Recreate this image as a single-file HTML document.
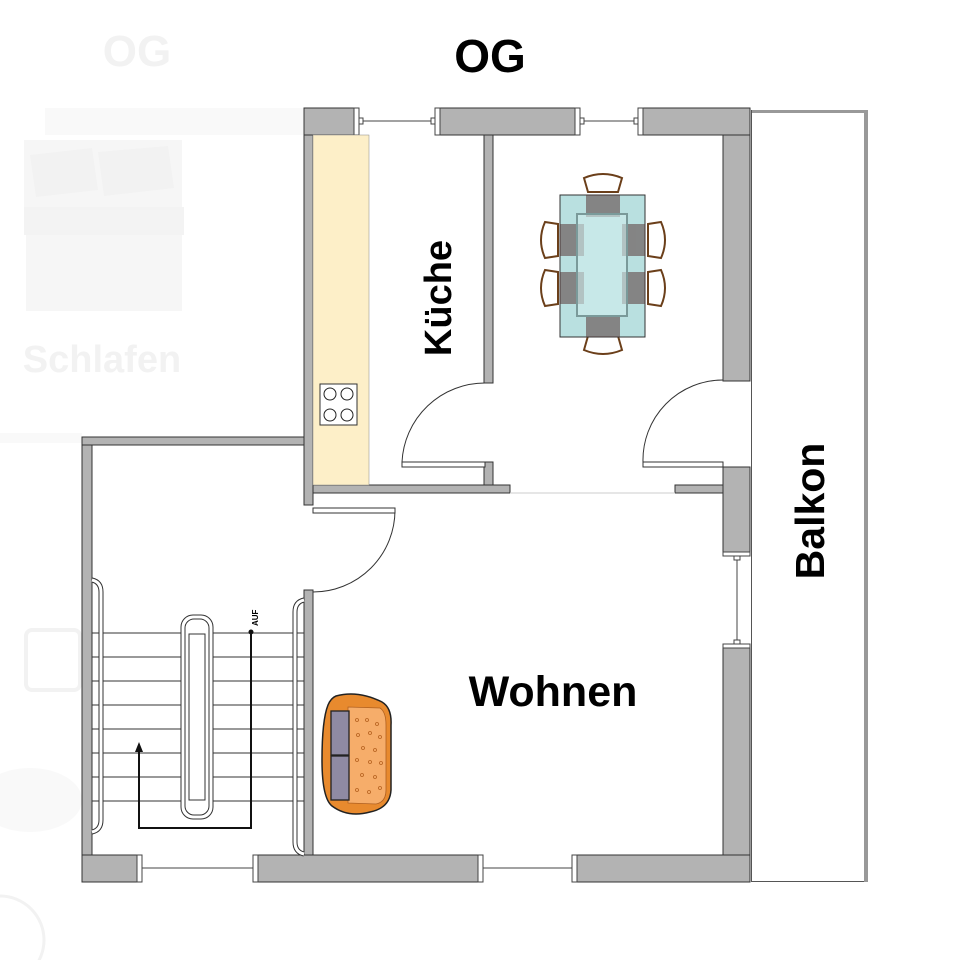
<!DOCTYPE html>
<html><head><meta charset="utf-8"><style>
html,body{margin:0;padding:0;background:#fff;}
svg{display:block;}
text{font-family:"Liberation Sans",sans-serif;font-weight:bold;}
</style></head><body>
<svg width="957" height="960" viewBox="0 0 957 960" xmlns="http://www.w3.org/2000/svg">
<!-- faded left -->
<g fill="#f6f6f6" stroke="none">
<text x="137" y="66" font-size="44" text-anchor="middle" fill="#f2f2f2">OG</text>
<rect x="45" y="108" width="258" height="27" fill="#f9f9f9"/>
<rect x="24" y="140" width="158" height="72"/>
<path d="M30,155 L92,148 L98,190 L36,197 Z" fill="#f2f2f2"/>
<path d="M98,152 L168,146 L174,188 L104,196 Z" fill="#f2f2f2"/>
<rect x="24" y="207" width="160" height="28" fill="#f3f3f3"/>
<rect x="26" y="235" width="156" height="76"/>
<text x="102" y="372" font-size="38" text-anchor="middle" fill="#f2f2f2" font-weight="normal">Schlafen</text>
<rect x="0" y="433" width="82" height="10" fill="#f9f9f9"/>
<rect x="26" y="630" width="54" height="60" rx="6" fill="none" stroke="#f2f2f2" stroke-width="4"/>
<ellipse cx="30" cy="800" rx="52" ry="32" fill="#f9f9f9"/>
<circle cx="0" cy="940" r="44" fill="none" stroke="#f2f2f2" stroke-width="3"/>
</g>
<text x="490" y="72" font-size="46" text-anchor="middle" fill="#000">OG</text>

<!-- balcony -->
<rect x="751.5" y="110.5" width="116" height="771" fill="#fff" stroke="#555" stroke-width="1"/>
<rect x="752" y="110" width="114" height="3" fill="#999"/>
<rect x="864" y="110" width="4" height="772" fill="#999"/>

<g fill="#b3b3b3" stroke="#333" stroke-width="1">
<rect x="304" y="108" width="50" height="27"/>
<rect x="440" y="108" width="135" height="27"/>
<rect x="643" y="108" width="107" height="27"/>
<rect x="723" y="135" width="27" height="246"/>
<rect x="723" y="467" width="27" height="85"/>
<rect x="723" y="648" width="27" height="234"/>
<rect x="577" y="855" width="173" height="27"/>
<rect x="258" y="855" width="220" height="27"/>
<rect x="82" y="855" width="55" height="27"/>
<rect x="82" y="437" width="10" height="418"/>
<rect x="82" y="437" width="222" height="8"/>
<rect x="304" y="135" width="9" height="370"/>
<rect x="304" y="590" width="9" height="265"/>
<rect x="484" y="135" width="9" height="248"/>
<rect x="484" y="462" width="9" height="23"/>
<rect x="313" y="485" width="197" height="8"/>
<rect x="675" y="485" width="48" height="8"/>
</g>
<!-- windows -->
<g stroke="#444" stroke-width="1" fill="#fff">
<rect x="354" y="108" width="5" height="27"/><rect x="435" y="108" width="5" height="27"/>
<line x1="359" y1="121" x2="435" y2="121"/>
<rect x="359" y="118" width="4" height="6"/><rect x="431" y="118" width="4" height="6"/>
<rect x="575" y="108" width="5" height="27"/><rect x="638" y="108" width="5" height="27"/>
<line x1="580" y1="121" x2="638" y2="121"/>
<rect x="580" y="118" width="4" height="6"/><rect x="634" y="118" width="4" height="6"/>
<rect x="137" y="855" width="5" height="27"/><rect x="253" y="855" width="5" height="27"/>
<line x1="142" y1="868" x2="253" y2="868"/>
<rect x="478" y="855" width="5" height="27"/><rect x="572" y="855" width="5" height="27"/>
<line x1="483" y1="868" x2="572" y2="868"/>
<rect x="723" y="552" width="27" height="4"/><rect x="723" y="644" width="27" height="4"/>
<line x1="737" y1="556" x2="737" y2="644"/>
<rect x="734" y="556" width="6" height="4"/><rect x="734" y="640" width="6" height="4"/>
</g>
<line x1="510" y1="493" x2="675" y2="493" stroke="#ccc" stroke-width="1"/>

<!-- kitchen counter -->
<rect x="313" y="135" width="56" height="350" fill="#fdefc8" stroke="#888" stroke-width="0.5"/>
<rect x="320" y="384" width="37" height="41" fill="#fff" stroke="#333"/>
<g fill="none" stroke="#222"><circle cx="330" cy="394" r="6"/><circle cx="347" cy="394" r="6"/><circle cx="330" cy="415" r="6"/><circle cx="347" cy="415" r="6"/></g>

<!-- doors -->
<g fill="none" stroke="#333" stroke-width="1">
<path d="M485,383 A83,83 0 0 0 402,462"/>
<rect x="402" y="462" width="83" height="5" fill="#fff"/>
<path d="M723,380 A80,80 0 0 0 643,462"/>
<rect x="643" y="462" width="80" height="5" fill="#fff"/>
<path d="M395,510 A82,82 0 0 1 313,592"/>
<rect x="313" y="508" width="82" height="5" fill="#fff"/>
</g>

<!-- table -->
<g>
<g fill="#fff" stroke="#6b3f1a" stroke-width="2">
<path d="M584,178 Q603,170 622,178 L618,192 L588,192 Z"/>
<path d="M584,350 Q603,358 622,350 L618,336 L588,336 Z"/>
<path d="M545,222 Q537,240 545,258 L558,256 L558,224 Z"/>
<path d="M545,270 Q537,288 545,306 L558,304 L558,272 Z"/>
<path d="M661,222 Q669,240 661,258 L648,256 L648,224 Z"/>
<path d="M661,270 Q669,288 661,306 L648,304 L648,272 Z"/>
</g>
<rect x="560" y="195" width="85" height="142" fill="#b9e0e0" stroke="#333"/>
<g fill="#5a3a3a" opacity="0.55">
<rect x="586" y="195" width="34" height="22"/><rect x="586" y="316" width="34" height="21"/>
<rect x="560" y="224" width="24" height="32"/><rect x="560" y="272" width="24" height="32"/>
<rect x="622" y="224" width="23" height="32"/><rect x="622" y="272" width="23" height="32"/>
</g>
<rect x="577" y="214" width="50" height="102" fill="#d0ecec" fill-opacity="0.6" stroke="#7a9a9a" stroke-width="2"/>
</g>

<!-- stairs -->
<g stroke="#333" stroke-width="1" fill="none">
<line x1="92" y1="633" x2="304" y2="633"/><line x1="92" y1="657" x2="304" y2="657"/>
<line x1="92" y1="681" x2="304" y2="681"/><line x1="92" y1="705" x2="304" y2="705"/>
<line x1="92" y1="729" x2="304" y2="729"/><line x1="92" y1="753" x2="304" y2="753"/>
<line x1="92" y1="777" x2="304" y2="777"/><line x1="92" y1="801" x2="304" y2="801"/>
<path d="M92,580 Q101,582 101,592 L101,820 Q101,830 92,832" stroke-width="5" stroke="#333"/>
<path d="M92,580 Q101,582 101,592 L101,820 Q101,830 92,832" stroke-width="3" stroke="#fff"/>
<path d="M304,600 Q295,602 295,612 L295,842 Q295,852 304,854" stroke-width="5" stroke="#333"/>
<path d="M304,600 Q295,602 295,612 L295,842 Q295,852 304,854" stroke-width="3" stroke="#fff"/>
<rect x="181" y="615" width="32" height="204" rx="12" fill="#fff"/>
<rect x="185" y="619" width="24" height="196" rx="9"/>
<rect x="189" y="634" width="16" height="166" fill="#fff"/>
<polyline points="251,632 251,828 139,828 139,750" stroke="#111" stroke-width="2"/>
</g>
<polygon points="139,742 135,752 143,752" fill="#111"/>
<circle cx="251" cy="632" r="2.5" fill="#111"/>
<text x="0" y="0" font-size="8" font-weight="normal" transform="translate(258,626) rotate(-90)">AUF</text>

<!-- sofa -->
<g>
<path d="M336,696 Q358,690 382,702 Q392,708 391,725 L391,790 Q390,808 370,812 Q348,818 332,806 Q322,798 322,760 Q322,720 328,705 Q331,698 336,696 Z" fill="#e88a2e" stroke="#222" stroke-width="1.5"/>
<path d="M348,707 L380,708 Q386,712 386,725 L386,790 Q386,802 376,804 L348,803 Z" fill="#f6ad6a" stroke="#b06020" stroke-width="0.8"/>
<rect x="331" y="711" width="18" height="44" fill="#8f8aa3" stroke="#222" stroke-width="1.3"/>
<rect x="331" y="756" width="18" height="44" fill="#8f8aa3" stroke="#222" stroke-width="1.3"/>
<g fill="none" stroke="#b5601e" stroke-width="0.8">
<circle cx="357" cy="720" r="1.5"/><circle cx="367" cy="720" r="1.5"/><circle cx="377" cy="724" r="1.5"/>
<circle cx="358" cy="735" r="1.5"/><circle cx="370" cy="733" r="1.5"/><circle cx="380" cy="737" r="1.5"/>
<circle cx="363" cy="748" r="1.5"/><circle cx="375" cy="750" r="1.5"/><circle cx="357" cy="760" r="1.5"/>
<circle cx="370" cy="762" r="1.5"/><circle cx="381" cy="763" r="1.5"/><circle cx="362" cy="775" r="1.5"/>
<circle cx="375" cy="777" r="1.5"/><circle cx="357" cy="790" r="1.5"/><circle cx="369" cy="792" r="1.5"/><circle cx="380" cy="788" r="1.5"/>
</g>
</g>

<!-- labels -->
<text x="0" y="0" font-size="38" text-anchor="middle" transform="translate(451,298) rotate(-90)">Küche</text>
<text x="553" y="706" font-size="43" text-anchor="middle">Wohnen</text>
<text x="0" y="0" font-size="41" text-anchor="middle" transform="translate(824,511) rotate(-90)">Balkon</text>
</svg>
</body></html>
